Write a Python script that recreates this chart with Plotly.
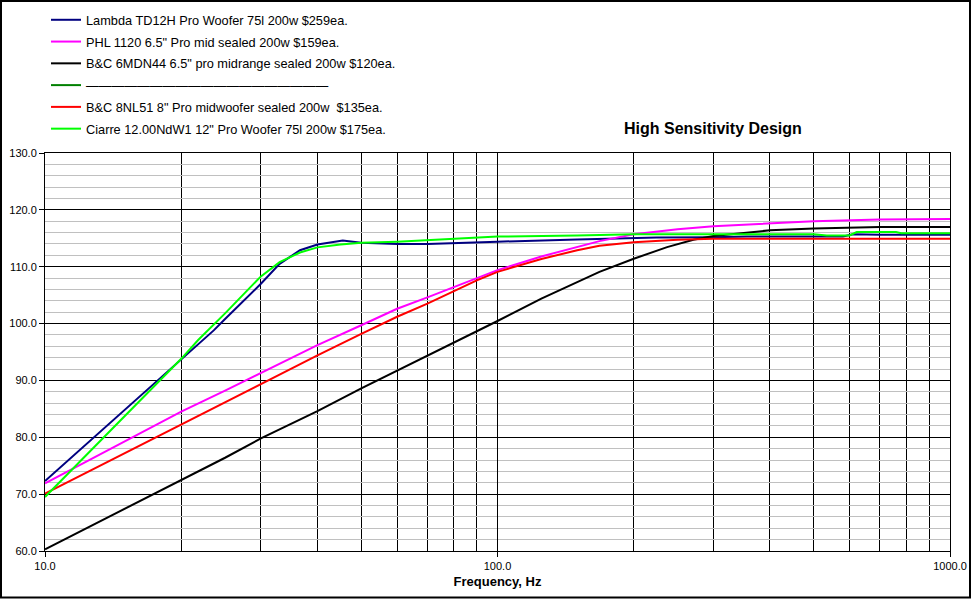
import plotly.graph_objects as go

# ---------------- data ----------------
lambda_f = [10, 12, 14, 17, 20, 23.6, 25, 30, 33, 36.6, 40, 43, 45.5, 50, 60, 70, 80, 90, 100,
            150, 200, 225, 300, 356, 580, 611, 700, 1000]
lambda_db = [72.3, 77.9, 82.7, 88.7, 93.7, 98.8, 100.8, 107.0, 110.5, 112.9, 113.9, 114.3, 114.6, 114.2,
             114.0, 114.0, 114.1, 114.3, 114.4, 114.8, 115.0, 115.15, 115.2, 115.3, 115.3, 115.7, 115.6, 115.6]

phl_f = [10, 12, 14, 17, 20, 25, 30, 40, 50, 60, 70, 80, 90, 100, 125, 150, 168, 200, 250, 300,
         400, 500, 700, 1000]
phl_db = [71.9, 75.2, 78.0, 81.6, 84.5, 88.2, 91.3, 96.2, 99.7, 102.6, 104.6, 106.4, 107.9, 109.4,
          111.8, 113.45, 114.5, 115.7, 116.6, 117.1, 117.6, 118.0, 118.3, 118.4]

bc6_f = [10, 12, 14, 17, 20, 25, 30, 40, 50, 60, 70, 80, 90, 100, 125, 150, 168, 200, 237, 271,
         300, 400, 500, 700, 1000]
bc6_db = [60.3, 63.5, 66.2, 69.6, 72.5, 76.4, 79.8, 84.6, 88.6, 91.7, 94.4, 96.6, 98.7, 100.45,
          104.4, 107.3, 109.1, 111.4, 113.45, 114.75, 115.4, 116.4, 116.7, 117.0, 117.0]

blank_f = []
blank_db = []

bc8_f = [10, 12, 14, 17, 20, 25, 30, 40, 50, 60, 70, 80, 90, 100, 125, 150, 168, 200, 250, 300, 1000]
bc8_db = [70.1, 73.3, 76.0, 79.4, 82.3, 86.2, 89.5, 94.4, 98.2, 101.2, 103.5, 105.7, 107.6, 109.1,
          111.35, 112.9, 113.7, 114.3, 114.75, 114.9, 114.9]

ciarre_f = [10, 12, 14, 17, 20, 21.8, 25, 30, 33, 36.6, 40, 45, 50, 60, 70, 80, 90, 100, 150, 200,
            300, 500, 534, 600, 622, 760, 780, 1000]
ciarre_db = [69.5, 75.9, 81.3, 88.1, 93.8, 97.1, 101.8, 108.3, 110.8, 112.5, 113.4, 113.9, 114.2,
             114.4, 114.7, 114.9, 115.1, 115.3, 115.5, 115.7, 115.7, 115.7, 115.5, 115.5, 116.1,
             116.1, 115.9, 115.9]

names = [
    "Lambda TD12H Pro Woofer 75l 200w $259ea.",
    "PHL 1120 6.5\" Pro mid sealed 200w $159ea.",
    "B&C 6MDN44 6.5\" pro midrange sealed 200w $120ea.",
    "\u2014" * 19,
    "B&C 8NL51 8\" Pro midwoofer sealed 200w  $135ea.",
    "Ciarre 12.00NdW1 12\" Pro Woofer 75l 200w $175ea.",
]
colors = ["#000080", "#FF00FF", "#000000", "#008000", "#FF0000", "#00FF00"]
series_f = [lambda_f, phl_f, bc6_f, blank_f, bc8_f, ciarre_f]
series_db = [lambda_db, phl_db, bc6_db, blank_db, bc8_db, ciarre_db]

x_ticks = [10, 100, 1000]
x_ticktext = ["10.0", "100.0", "1000.0"]
x_minor = [20, 30, 40, 50, 60, 70, 80, 90, 200, 300, 400, 500, 600, 700, 800, 900]

title_text = "High Sensitivity Design"
x_title = "Frequency, Hz"

FONT = "Liberation Sans, Arial, sans-serif"

fig = go.Figure()
for i, (nm, col, fx, dy) in enumerate(zip(names, colors, series_f, series_db)):
    fig.add_trace(go.Scatter(
        x=fx if fx else [None], y=dy if dy else [None],
        mode="lines", name=nm, legendgroup=f"g{i}",
        line=dict(color=col, width=2),
        hoverinfo="skip",
    ))

W, H = 973, 599
L, R, T, B = 45, 23, 153, 48
pw, ph = W - L - R, H - T - B

def px2x(px):
    return (px - L) / pw

def py2y(py):
    return (H - B - py) / ph

fig.update_layout(
    width=W, height=H,
    margin=dict(l=L, r=R, t=T, b=B, pad=0, autoexpand=False),
    paper_bgcolor="white", plot_bgcolor="white",
    font=dict(family=FONT, color="black", size=11),
    showlegend=True,
    legend=dict(
        xref="paper", yref="paper",
        x=px2x(46), y=py2y(5), xanchor="left", yanchor="top",
        font=dict(size=12.75, family=FONT, color="black"),
        itemwidth=30, tracegroupgap=2.2,
        bgcolor="rgba(0,0,0,0)", borderwidth=0,
        traceorder="grouped",
    ),
    xaxis=dict(
        type="log", range=[1, 3],
        tickmode="array", tickvals=x_ticks, ticktext=x_ticktext,
        ticks="outside", ticklen=5, tickcolor="black", tickwidth=1,
        showgrid=True, gridcolor="black", gridwidth=1,
        minor=dict(tickmode="array", tickvals=x_minor, showgrid=True,
                   gridcolor="black", gridwidth=1, ticks=""),
        showline=True, linecolor="black", linewidth=1, mirror=True,
        zeroline=False, automargin=False,
        tickfont=dict(size=11, family=FONT, color="black"),
        title=dict(text="<b>" + x_title + "</b>", font=dict(size=13, family=FONT, color="black"),
                   standoff=5),
    ),
    yaxis=dict(
        range=[60, 130], tick0=60, dtick=10, tickformat=".1f",
        ticks="outside", ticklen=5, tickcolor="black", tickwidth=1,
        showgrid=True, gridcolor="black", gridwidth=1,
        minor=dict(dtick=2, tick0=60, showgrid=True, gridcolor="#C0C0C0", gridwidth=1, ticks=""),
        showline=True, linecolor="black", linewidth=1, mirror=True,
        zeroline=False, automargin=False,
        tickfont=dict(size=11, family=FONT, color="black"),
    ),
    annotations=[dict(
        xref="paper", yref="paper", x=px2x(712.5), y=py2y(128),
        xanchor="center", yanchor="middle", showarrow=False,
        text="<b>" + title_text + "</b>",
        font=dict(size=16, family=FONT, color="black"),
    )],
    shapes=[dict(
        type="rect", xref="paper", yref="paper",
        x0=px2x(1), x1=px2x(970), y0=py2y(597.5), y1=py2y(1),
        line=dict(color="black", width=2), fillcolor="rgba(0,0,0,0)", layer="below",
    )],
)

fig.write_html("out.html", config={"displayModeBar": False},
               post_script="document.body.style.margin='0';")
